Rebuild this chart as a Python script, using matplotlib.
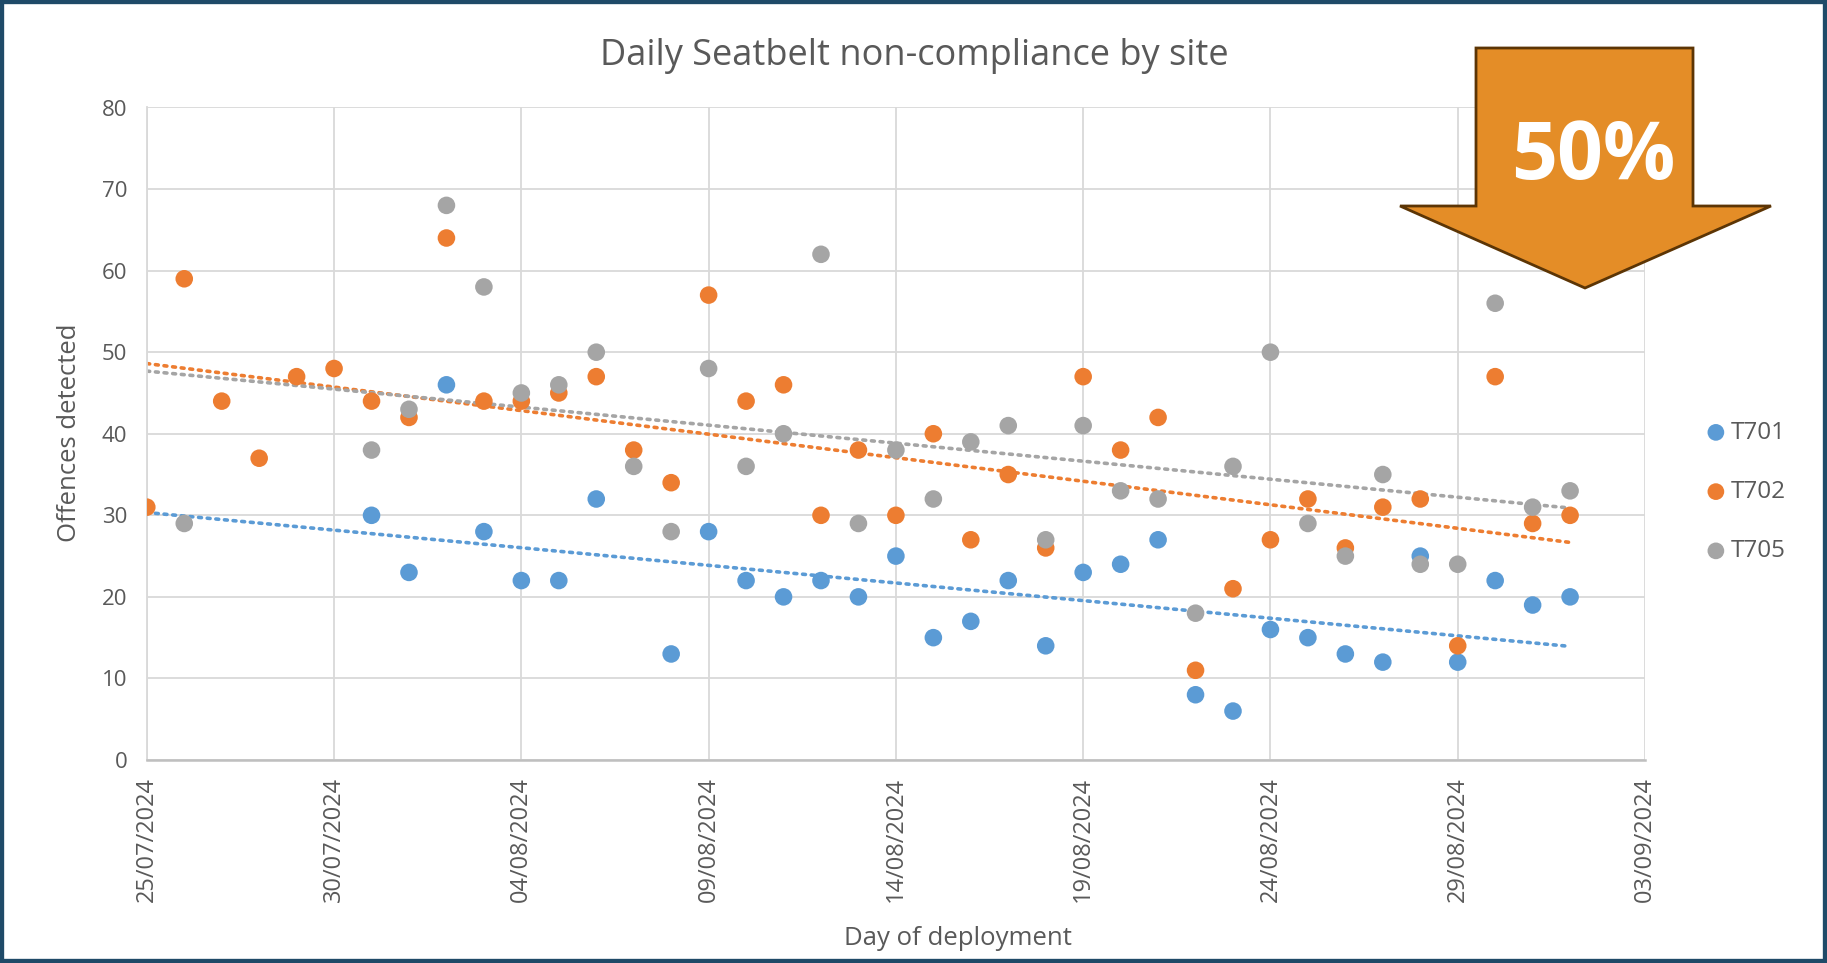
import numpy as np
import pandas as pd
import matplotlib
matplotlib.use("Agg")
import matplotlib.pyplot as plt
import matplotlib.dates as mdates
from matplotlib.patches import Polygon, Rectangle

plt.rcParams['font.family'] = ['Open Sans', 'DejaVu Sans']

# deployment days, 25/07/2024 .. 01/09/2024
dates = pd.date_range("2024-07-25", "2024-09-01", freq="D")
nan = np.nan

t701 = [nan, nan, nan, nan, nan, nan, 30, 23, 46, 28,
        22, 22, 32, nan, 13, 28, 22, 20, 22, 20,
        25, 15, 17, 22, 14, 23, 24, 27, 8, 6,
        16, 15, 13, 12, 25, 12, 22, 19, 20]
t702 = [31, 59, 44, 37, 47, 48, 44, 42, 64, 44,
        44, 45, 47, 38, 34, 57, 44, 46, 30, 38,
        30, 40, 27, 35, 26, 47, 38, 42, 11, 21,
        27, 32, 26, 31, 32, 14, 47, 29, 30]
t705 = [nan, 29, nan, nan, nan, nan, 38, 43, 68, 58,
        45, 46, 50, 36, 28, 48, 36, 40, 62, 29,
        38, 32, 39, 41, 27, 41, 33, 32, 18, 36,
        50, 29, 25, 35, 24, 24, 56, 31, 33]

series = [("T701", t701, "#5B9BD5"),
          ("T702", t702, "#ED7D31"),
          ("T705", t705, "#A5A5A5")]

W, H = 1827, 963
fig = plt.figure(figsize=(W / 100, H / 100), dpi=100)
ax = fig.add_axes([146.8 / W, 1 - 760 / H, (1645 - 146.8) / W, (760 - 107.5) / H])

xnum = mdates.date2num(dates)
for name, vals, col in series:
    y = np.array(vals, dtype=float)
    ok = ~np.isnan(y)
    ax.scatter(dates[ok], y[ok], s=160, color=col, edgecolors="none", zorder=3, label=name)
    # linear trendline over the whole deployment range
    k, b = np.polyfit(xnum[ok], y[ok], 1)
    ax.plot(dates, k * xnum + b, color=col, lw=2.6, ls=(0, (0.8, 1.6)),
            dash_capstyle="round", zorder=2)

ax.set_ylim(0, 80)
ax.set_yticks(range(0, 81, 10))
ax.set_xlim(mdates.date2num(pd.Timestamp("2024-07-25")), mdates.date2num(pd.Timestamp("2024-09-03")))
ticks = pd.date_range("2024-07-25", "2024-09-03", freq="5D")
ax.set_xticks(ticks)
ax.xaxis.set_major_formatter(mdates.DateFormatter("%d/%m/%Y"))
ax.tick_params(axis="x", rotation=90, labelsize=17, colors="#595959", length=0, pad=12)
ax.tick_params(axis="y", labelsize=16, colors="#595959", length=0, pad=14)
ax.grid(True, color="#D9D9D9", lw=1.3)
ax.set_axisbelow(True)
for s in ["top", "right"]:
    ax.spines[s].set_visible(False)
ax.spines["left"].set_color("#D9D9D9")
ax.spines["left"].set_linewidth(1.3)
ax.spines["bottom"].set_color("#BFBFBF")
ax.spines["bottom"].set_linewidth(1.8)

fig.text(914 / W, 1 - 56 / H, "Daily Seatbelt non-compliance by site", ha="center", va="center",
         fontsize=26, color="#595959")
fig.text(70 / W, 1 - 433 / H, "Offences detected", rotation=90, ha="center", va="center",
         fontsize=18.5, color="#595959")
fig.text(958 / W, 1 - 938 / H, "Day of deployment", ha="center", va="center",
         fontsize=18.5, color="#595959")

ax.legend(loc="center left", bbox_to_anchor=(1694 / W, 1 - 492 / H), bbox_transform=fig.transFigure,
          frameon=False, fontsize=17.5, labelcolor="#595959", handletextpad=0.1,
          labelspacing=1.45, borderaxespad=0, handlelength=1.0, markerscale=0.95)

# call-out arrow
pts = [(1476, 48), (1693, 48), (1693, 206), (1771, 206), (1585, 288), (1400, 206), (1476, 206)]
fig.patches.append(Polygon([(x / W, 1 - y / H) for x, y in pts], closed=True,
                           transform=fig.transFigure, facecolor="#E48D27",
                           edgecolor="#5C3505", lw=2, zorder=5))
fig.text(1593 / W, 1 - 158 / H, "50%", ha="center", va="center", fontsize=58,
         fontweight="bold", color="white", zorder=6)

# frame around the picture
fig.patches.append(Rectangle((0, 0), 1, 1, transform=fig.transFigure, fill=False,
                             edgecolor="#1F4A68", lw=6, zorder=10))

fig.savefig("out.png", dpi=100)
